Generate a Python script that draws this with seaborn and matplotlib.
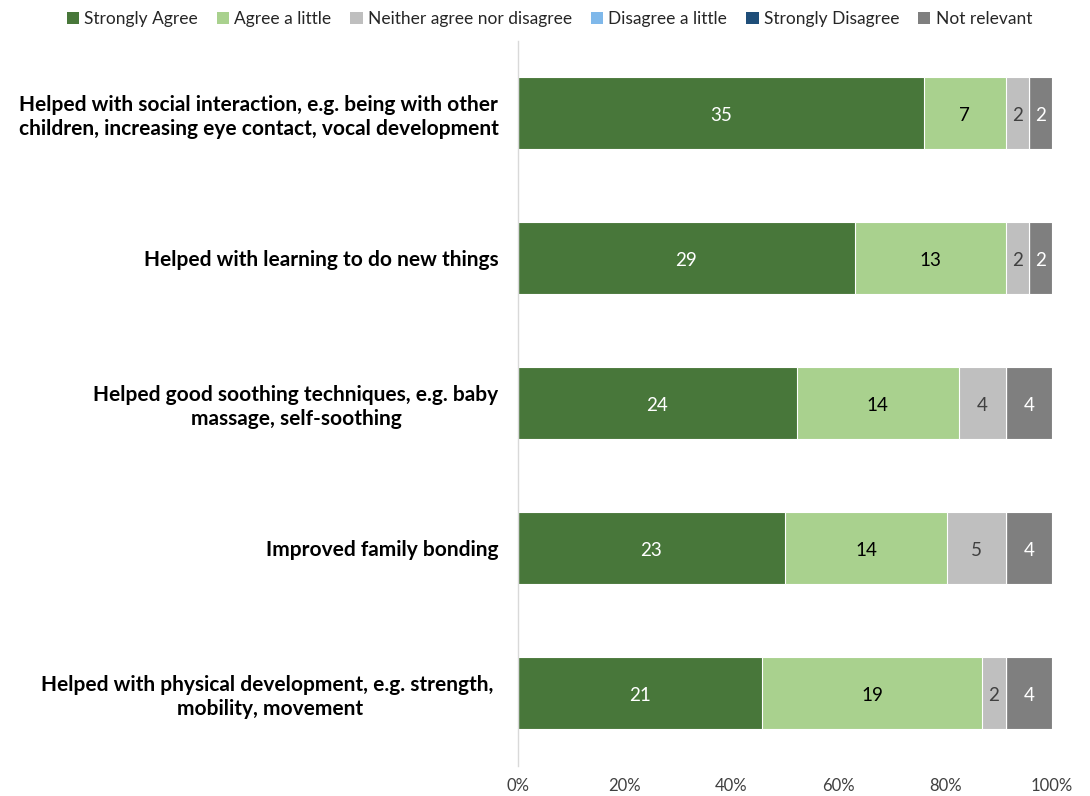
import matplotlib
matplotlib.use("Agg")
import matplotlib.pyplot as plt
from matplotlib.patches import Patch
from matplotlib.ticker import FuncFormatter
import numpy as np
import pandas as pd
import seaborn as sns

# Survey statements (top to bottom)
statements = [
    "Helped with social interaction, e.g. being with other\nchildren, increasing eye contact, vocal development",
    "Helped with learning to do new things",
    "Helped good soothing techniques, e.g. baby\nmassage, self-soothing",
    "Improved family bonding",
    "Helped with physical development, e.g. strength, \nmobility, movement",
]

responses = ["Strongly Agree", "Agree a little", "Neither agree nor disagree",
             "Disagree a little", "Strongly Disagree", "Not relevant"]

# Response counts per statement
strongly_agree = [35, 29, 24, 23, 21]
agree_little = [7, 13, 14, 14, 19]
neither = [2, 2, 4, 5, 2]
disagree_little = [0, 0, 0, 0, 0]
strongly_disagree = [0, 0, 0, 0, 0]
not_relevant = [2, 2, 4, 4, 4]

colors = ["#48773A", "#A9D18E", "#BFBFBF", "#7FB8EA", "#1F4E79", "#7F7F7F"]
label_colors = ["white", "black", "#404040", "black", "white", "white"]

counts = np.array([strongly_agree, agree_little, neither,
                   disagree_little, strongly_disagree, not_relevant], dtype=float)
totals = counts.sum(axis=0)
shares = counts / totals * 100
cum = np.cumsum(shares, axis=0)

sns.set_theme(style="white")
plt.rcParams["font.family"] = ["Lato", "DejaVu Sans"]

fig = plt.figure(figsize=(10.9, 7.96), dpi=100)
ax = fig.add_axes([0.4752, 0.0383, 0.4899, 0.9108])

# Stacked bars: draw cumulative totals from the last segment back to the first
for i in range(len(responses) - 1, -1, -1):
    df = pd.DataFrame({"statement": statements, "value": cum[i]})
    sns.barplot(data=df, x="value", y="statement", order=statements,
                color=colors[i], width=0.5, orient="h", ax=ax,
                edgecolor="white", linewidth=0.8, saturation=1)

# Segment value labels
for i in range(len(responses)):
    start = cum[i] - shares[i]
    for j in range(len(statements)):
        if counts[i, j] > 0:
            ax.text(start[j] + shares[i, j] / 2, j + 0.02, f"{int(counts[i, j])}",
                    ha="center", va="center", fontsize=13.5,
                    color=label_colors[i])

ax.set_xlim(0, 100)
ax.set_ylim(4.5, -0.5)
ax.set_xlabel("")
ax.set_ylabel("")
ax.set_xticks(np.arange(0, 101, 20))
ax.xaxis.set_major_formatter(FuncFormatter(lambda v, _: f"{int(v)}%"))
ax.tick_params(axis="x", length=0, labelsize=12, pad=9, colors="#404040")
ax.tick_params(axis="y", length=0, pad=14)
for lab in ax.get_yticklabels():
    lab.set_fontsize(15)
    lab.set_fontweight("bold")
    lab.set_color("black")
    lab.set_multialignment("center")
    lab.set_linespacing(1.25)

for side in ["top", "right", "bottom"]:
    ax.spines[side].set_visible(False)
ax.spines["left"].set_color("#D9D9D9")
ax.spines["left"].set_linewidth(1)

handles = [Patch(facecolor=c, edgecolor="none") for c in colors]
fig.legend(handles, responses, loc="center", bbox_to_anchor=(0.504, 0.976),
           ncol=6, frameon=False, fontsize=12.5, handlelength=0.7,
           handleheight=0.7, handletextpad=0.3, columnspacing=1.1)

fig.savefig("out.png", dpi=100)
